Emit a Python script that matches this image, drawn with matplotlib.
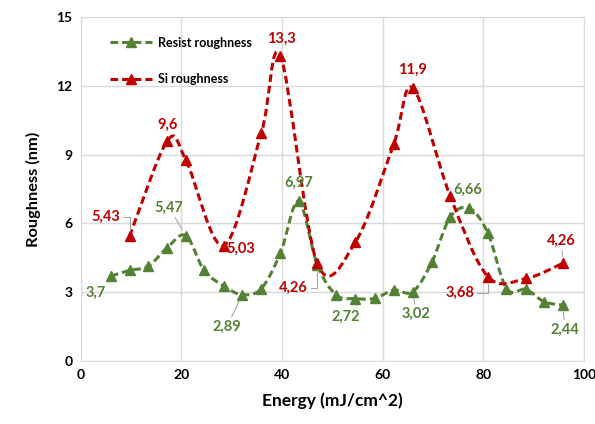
import matplotlib
matplotlib.use('Agg')
import matplotlib.pyplot as plt
from matplotlib.path import Path
from matplotlib.patches import PathPatch
from matplotlib.lines import Line2D
import numpy as np

plt.rcParams['font.family'] = ['Lato', 'DejaVu Sans']
plt.rcParams['font.weight'] = 'bold'

# Resist roughness
resist_x = [6.0, 9.7, 13.4, 17.2, 20.9, 24.5, 28.4, 32.1, 35.9, 39.7, 43.3, 47.0,
            50.8, 54.6, 58.4, 62.2, 66.0, 69.8, 73.4, 77.2, 80.9, 84.6, 88.5, 92.1, 95.8]
resist_y = [3.7, 3.95, 4.13, 4.94, 5.47, 3.96, 3.27, 2.89, 3.16, 4.71, 6.97, 4.2,
            2.87, 2.72, 2.73, 3.09, 3.02, 4.32, 6.27, 6.66, 5.58, 3.16, 3.12, 2.58, 2.44]

# Si roughness
si_x = [9.7, 17.2, 20.9, 28.4, 35.9, 39.7, 47.0, 54.6, 62.2, 66.0, 73.4, 80.9, 88.5, 95.8]
si_y = [5.43, 9.6, 8.77, 5.03, 9.95, 13.3, 4.26, 5.19, 9.46, 11.9, 7.2, 3.68, 3.6, 4.26]

green = '#548235'
red = '#C00000'
lead = '#A6A6A6'

# labelled points: (index, text, dx, dy, leader, connection)
resist_labels = [
    (0, '3,7', -11, -12, False, None),
    (4, '5,47', -12, 20, True, None),
    (7, '2,89', -11, -23, True, None),
    (10, '6,97', 0, 13, False, None),
    (13, '2,72', -7, -13, False, None),
    (16, '3,02', 2.5, -16, True, None),
    (19, '6,66', -1, 13, False, None),
    (24, '2,44', 1.5, -17.5, True, None),
]
si_labels = [
    (0, '5,43', -17, 14, True, 'angle,angleA=0,angleB=90,rad=0'),
    (1, '9,6', 0, 11.5, False, None),
    (3, '5,03', 12.5, -2, False, None),
    (5, '13,3', 0.5, 12.5, False, None),
    (6, '4,26', -17, -18, True, 'angle,angleA=0,angleB=90,rad=0'),
    (9, '11,9', 0, 13, False, None),
    (11, '3,68', -20, -12, True, 'angle,angleA=0,angleB=90,rad=0'),
    (13, '4,26', -1, 16, True, None),
]


def smooth_path(xs, ys):
    # Excel style smoothed line as cubic bezier segments
    pts = np.column_stack([xs, ys])
    n = len(pts)
    verts = [pts[0]]
    codes = [Path.MOVETO]
    for i in range(n - 1):
        p0 = pts[max(i - 1, 0)]
        p1 = pts[i]
        p2 = pts[i + 1]
        p3 = pts[min(i + 2, n - 1)]
        c1 = p1 + (p2 - p0) / 6.0
        c2 = p2 - (p3 - p1) / 6.0
        verts += [c1, c2, p2]
        codes += [Path.CURVE4] * 3
    return Path(verts, codes)


fig = plt.figure(figsize=(5.95, 4.24), dpi=100)
ax = fig.add_axes([0.1356, 0.1486, 0.8459, 0.8114])

dash = (0, (2.5, 1.3))
for xs, ys, col in [(resist_x, resist_y, green), (si_x, si_y, red)]:
    ax.add_patch(PathPatch(smooth_path(xs, ys), fill=False, edgecolor=col,
                           lw=2.2, linestyle=dash, zorder=3, capstyle='butt'))
    ax.plot(xs, ys, linestyle='none', marker='^', markersize=7.5, color=col, zorder=4)

for xs, ys, col, labels in [(resist_x, resist_y, green, resist_labels),
                            (si_x, si_y, red, si_labels)]:
    for i, txt, dx, dy, leader, conn in labels:
        kw = {}
        if leader:
            kw['arrowprops'] = dict(arrowstyle='-', color=lead, lw=0.8, shrinkA=0, shrinkB=5,
                                    connectionstyle=conn or 'arc3')
        ax.annotate(txt, xy=(xs[i], ys[i]), xytext=(dx, dy), textcoords='offset points',
                    ha='center', va='center', color=col, fontsize=10.5, fontweight='bold',
                    zorder=5, **kw)

ax.set_xlim(0, 100)
ax.set_ylim(0, 15)
ax.set_xticks(range(0, 101, 20))
ax.set_yticks(range(0, 16, 3))
ax.grid(True, color='#D9D9D9', lw=1)
ax.set_axisbelow(True)
for s in ax.spines.values():
    s.set_color('#D9D9D9')
ax.tick_params(length=0, labelsize=10, pad=6)
for lbl in ax.get_xticklabels() + ax.get_yticklabels():
    lbl.set_fontweight('bold')

ax.set_xlabel('Energy (mJ/cm^2)', fontsize=12.5, fontweight='bold', labelpad=8)
ax.set_ylabel('Roughness (nm)', fontsize=11.8, fontweight='bold', labelpad=11)

handles = [Line2D([], [], color=green, lw=2.2, linestyle=dash, marker='^', markersize=7.5),
           Line2D([], [], color=red, lw=2.2, linestyle=dash, marker='^', markersize=7.5)]
ax.legend(handles, ['Resist roughness', 'Si roughness'], loc='upper left', frameon=False,
          bbox_to_anchor=(0.035, 0.975), labelspacing=1.95, handlelength=3.4, handletextpad=0.45,
          prop={'weight': 'bold', 'size': 9})

fig.savefig('out.png', dpi=100)
